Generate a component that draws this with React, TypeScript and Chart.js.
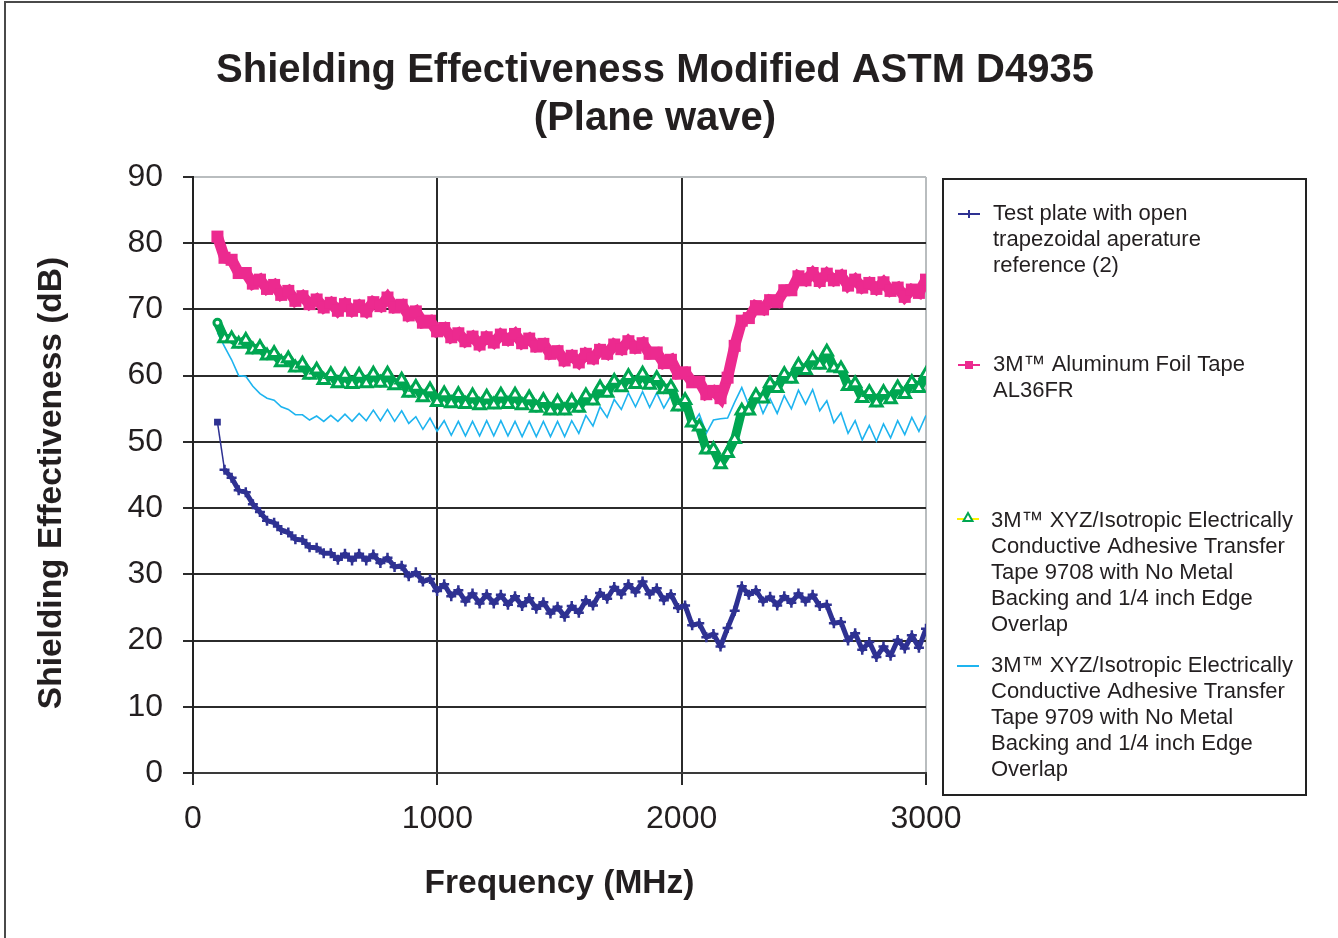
import React, { useEffect, useRef } from 'react';
import { Chart, registerables } from 'chart.js';

Chart.register(...registerables);

// ---------- data ----------
const FREQ_MHZ = [
  100, 129, 158, 187, 216, 245, 274, 303, 332, 361, 390, 419, 448, 477, 506, 535, 564, 593, 622, 651,
  680, 709, 738, 767, 796, 825, 854, 883, 912, 941, 970, 999, 1028, 1057, 1086, 1115, 1144, 1173, 1202, 1231,
  1260, 1289, 1318, 1347, 1376, 1405, 1434, 1463, 1492, 1521, 1550, 1579, 1608, 1637, 1666, 1695, 1724, 1753, 1782, 1811,
  1840, 1869, 1898, 1927, 1956, 1985, 2014, 2043, 2072, 2101, 2130, 2159, 2188, 2217, 2246, 2275, 2304, 2333, 2362, 2391,
  2420, 2449, 2478, 2507, 2536, 2565, 2594, 2623, 2652, 2681, 2710, 2739, 2768, 2797, 2826, 2855, 2884, 2913, 2942, 2971,
  3000,
];

const TEST_PLATE = [
  53.0, 45.8, 44.6, 42.7, 42.4, 40.6, 39.4, 38.1, 37.8, 36.7, 36.3, 35.3, 35.2, 34.1, 34.0, 33.2, 33.2, 32.2, 33.1, 32.1,
  33.1, 32.1, 33.0, 31.7, 32.5, 31.1, 31.3, 29.7, 30.3, 28.9, 29.3, 27.5, 28.5, 26.7, 27.6, 25.9, 27.1, 25.6, 27.0, 25.6,
  26.9, 25.4, 26.7, 25.2, 26.4, 24.8, 25.8, 24.1, 25.1, 23.6, 25.2, 24.2, 26.1, 25.3, 27.2, 26.3, 28.1, 27.0, 28.5, 27.3,
  28.9, 27.0, 27.9, 26.1, 27.0, 24.9, 25.3, 22.3, 22.6, 20.5, 21.0, 19.1, 21.9, 24.5, 28.2, 26.9, 27.6, 25.9, 26.6, 25.3,
  26.7, 25.7, 27.1, 25.9, 26.9, 25.2, 25.4, 22.6, 22.8, 20.0, 21.1, 18.6, 19.8, 17.5, 19.1, 17.7, 20.1, 18.8, 20.8, 18.9,
  21.8,
];

const AL_FOIL_AL36FR = [
  81.0, 77.8, 77.5, 75.5, 75.5, 73.9, 74.5, 73.1, 73.7, 72.2, 72.8, 71.3, 72.0, 70.8, 71.5, 70.3, 71.0, 69.8, 70.8, 69.8,
  70.6, 69.7, 71.1, 70.5, 71.8, 70.3, 70.7, 69.1, 69.7, 68.0, 68.3, 66.7, 67.2, 65.8, 66.4, 65.2, 65.9, 64.7, 65.8, 65.0,
  66.2, 65.4, 66.3, 64.9, 65.6, 64.4, 64.8, 63.3, 63.7, 62.3, 63.0, 62.0, 63.3, 62.6, 63.9, 63.3, 64.7, 64.0, 65.2, 64.2,
  64.9, 63.3, 63.5, 61.9, 62.4, 60.3, 60.5, 59.0, 59.1, 57.2, 57.7, 56.6, 59.7, 64.5, 68.3, 68.7, 70.5, 70.0, 71.4, 71.1,
  72.9, 72.9, 75.0, 74.4, 75.5, 74.3, 75.4, 74.4, 75.1, 73.6, 74.5, 73.3, 74.0, 73.1, 74.1, 72.8, 73.3, 71.9, 73.0, 72.5,
  74.5,
];

const TAPE_9708 = [
  68.0, 65.6, 65.6, 64.8, 65.4, 63.9, 64.3, 63.0, 63.4, 62.0, 62.6, 61.2, 61.8, 60.1, 60.9, 59.3, 60.2, 58.8, 60.1, 58.7,
  60.1, 58.8, 60.3, 58.9, 60.3, 58.5, 59.4, 57.4, 58.3, 56.7, 57.9, 56.0, 57.3, 55.8, 57.2, 55.7, 57.0, 55.5, 56.8, 55.6,
  57.1, 55.7, 57.1, 55.5, 56.7, 55.1, 56.3, 54.7, 56.1, 54.7, 56.2, 55.1, 57.0, 56.2, 58.2, 57.4, 59.2, 58.2, 59.9, 58.7,
  60.3, 58.6, 59.6, 57.9, 58.3, 55.3, 56.3, 52.9, 52.3, 48.8, 48.9, 46.6, 48.3, 50.4, 54.7, 54.7, 57.0, 56.5, 58.8, 58.1,
  60.2, 59.5, 61.6, 60.8, 62.6, 61.6, 63.6, 61.2, 61.1, 58.4, 58.8, 56.6, 57.5, 55.9, 57.5, 56.4, 58.2, 57.2, 59.0, 58.1,
  60.2,
];

const TAPE_9709 = [
  66.5, 64.4, 62.4, 60.0, 59.9, 58.4, 57.3, 56.6, 56.3, 55.3, 54.9, 54.1, 54.1, 53.3, 53.9, 53.1, 54.0, 53.1, 54.2, 53.1,
  54.3, 53.2, 54.8, 53.2, 54.9, 53.1, 54.7, 52.8, 53.8, 51.9, 53.6, 51.6, 53.2, 51.0, 53.1, 50.9, 53.1, 50.9, 53.2, 50.9,
  53.2, 50.9, 53.1, 50.8, 53.1, 50.8, 53.1, 50.8, 53.1, 50.8, 53.2, 51.3, 54.0, 52.4, 55.3, 53.7, 56.4, 54.9, 57.4, 55.3,
  57.6, 55.2, 57.4, 55.1, 57.0, 54.8, 56.5, 52.6, 54.2, 51.3, 53.3, 53.5, 53.6, 56.0, 58.2, 55.5, 57.2, 54.3, 56.5, 54.3,
  57.0, 55.0, 57.8, 55.7, 57.9, 54.7, 56.2, 52.9, 54.4, 51.3, 53.2, 50.3, 52.5, 50.1, 52.7, 50.6, 53.2, 51.1, 53.7, 51.6,
  54.0,
];

const X_MIN = 0;
const X_MAX = 3000;
const X_STEP = 1000;
const Y_MIN = 0;
const Y_MAX = 90;
const Y_STEP = 10;

const TITLE_LINES = ['Shielding Effectiveness Modified ASTM D4935', '(Plane wave)'];
const X_TITLE = 'Frequency (MHz)';
const Y_TITLE = 'Shielding Effectiveness (dB)';

const LABEL_TEST_PLATE = ['Test plate with open', 'trapezoidal aperature', 'reference (2)'];
const LABEL_AL_FOIL = ['3M™ Aluminum Foil Tape', 'AL36FR'];
const LABEL_9708 = [
  '3M™ XYZ/Isotropic Electrically',
  'Conductive Adhesive Transfer',
  'Tape 9708 with No Metal',
  'Backing and 1/4 inch Edge',
  'Overlap',
];
const LABEL_9709 = [
  '3M™ XYZ/Isotropic Electrically',
  'Conductive Adhesive Transfer',
  'Tape 9709 with No Metal',
  'Backing and 1/4 inch Edge',
  'Overlap',
];

// ---------- styles ----------
const FONT = '"Liberation Sans", Arial, Helvetica, sans-serif';
const TEXT = '#231f20';
const NAVY = '#2e3192';
const PINK = '#ec2a8f';
const GREEN = '#00a651';
const CYAN = '#1eb4ef';
const YELLOW = '#fff200';
const GRID = '#2b2b2b';
const FRAME = '#b9bdbf';

const W = 1338;
const H = 938;

const pts = (ys: number[]) => FREQ_MHZ.map((f, i) => ({ x: f, y: ys[i] }));

const decorPlugin = {
  id: 'decor',
  beforeDraw(chart: any) {
    const ctx = chart.ctx;
    ctx.save();
    ctx.fillStyle = '#ffffff';
    ctx.fillRect(0, 0, chart.width, chart.height);
    ctx.strokeStyle = '#4a4a4a';
    ctx.lineWidth = 2;
    ctx.beginPath();
    ctx.moveTo(5, H);
    ctx.lineTo(5, 2);
    ctx.lineTo(W, 2);
    ctx.stroke();
    ctx.restore();
  },
  afterDraw(chart: any) {
    const ctx = chart.ctx;
    ctx.save();
    ctx.fillStyle = TEXT;
    ctx.textAlign = 'center';
    ctx.textBaseline = 'middle';
    ctx.font = `bold 40px ${FONT}`;
    ctx.fillText(TITLE_LINES[0], 655, 71);
    ctx.fillText(TITLE_LINES[1], 655, 119);

    ctx.save();
    ctx.translate(52, 483);
    ctx.rotate(-Math.PI / 2);
    ctx.font = `bold 33.5px ${FONT}`;
    ctx.fillText(Y_TITLE, 0, 0);
    ctx.restore();

    const lx = 943;
    const ly = 179;
    ctx.strokeStyle = '#222';
    ctx.lineWidth = 2;
    ctx.strokeRect(lx, ly, 363, 616);

    ctx.font = `22px ${FONT}`;
    ctx.textAlign = 'left';
    const lineGap = 25.9;
    const drawLines = (lines: string[], x: number, y0: number) => {
      lines.forEach((t, i) => ctx.fillText(t, x, y0 + i * lineGap));
    };

    ctx.strokeStyle = NAVY;
    ctx.lineWidth = 2;
    ctx.beginPath();
    ctx.moveTo(958, 214);
    ctx.lineTo(980, 214);
    ctx.moveTo(969, 210);
    ctx.lineTo(969, 218);
    ctx.stroke();
    drawLines(LABEL_TEST_PLATE, 993, 214);

    ctx.strokeStyle = PINK;
    ctx.fillStyle = PINK;
    ctx.beginPath();
    ctx.moveTo(958, 365);
    ctx.lineTo(980, 365);
    ctx.stroke();
    ctx.fillRect(965, 361, 8, 8);
    ctx.fillStyle = TEXT;
    drawLines(LABEL_AL_FOIL, 993, 365);

    ctx.strokeStyle = YELLOW;
    ctx.beginPath();
    ctx.moveTo(957, 519);
    ctx.lineTo(979, 519);
    ctx.stroke();
    ctx.strokeStyle = GREEN;
    ctx.fillStyle = '#ffffff';
    ctx.lineWidth = 2;
    ctx.beginPath();
    ctx.moveTo(968, 513);
    ctx.lineTo(972.5, 521);
    ctx.lineTo(963.5, 521);
    ctx.closePath();
    ctx.fill();
    ctx.stroke();
    ctx.fillStyle = TEXT;
    drawLines(LABEL_9708, 991, 521);

    ctx.strokeStyle = CYAN;
    ctx.lineWidth = 2;
    ctx.beginPath();
    ctx.moveTo(957, 666);
    ctx.lineTo(979, 666);
    ctx.stroke();
    drawLines(LABEL_9709, 991, 666);

    ctx.restore();
  },
};

export default function App() {
  const canvasRef = useRef<HTMLCanvasElement | null>(null);

  useEffect(() => {
    document.body.style.margin = '0';
    const canvas = canvasRef.current;
    if (!canvas) return;

    const chart = new Chart(canvas, {
      type: 'line',
      data: {
        datasets: [
          {
            label: LABEL_TEST_PLATE.join(' '),
            data: pts(TEST_PLATE),
            borderColor: NAVY,
            backgroundColor: NAVY,
            borderWidth: 4.5,
            borderJoinStyle: 'round',
            segment: { borderWidth: (c: any) => (c.p0DataIndex === 0 ? 1.5 : 5) },
            pointStyle: (c: any) => (c.dataIndex === 0 ? 'rect' : 'cross'),
            pointRadius: (c: any) => (c.dataIndex === 0 ? 3 : 5),
            pointBorderWidth: 2.5,
            pointBorderColor: NAVY,
            pointBackgroundColor: NAVY,
            tension: 0,
          },
          {
            label: LABEL_AL_FOIL.join(' '),
            data: pts(AL_FOIL_AL36FR),
            borderColor: PINK,
            backgroundColor: PINK,
            borderWidth: 11,
            borderJoinStyle: 'miter',
            pointStyle: 'rect',
            pointRadius: 8.5,
            pointBorderWidth: 0,
            pointBackgroundColor: PINK,
            tension: 0,
          },
          {
            label: LABEL_9708.join(' '),
            data: pts(TAPE_9708),
            borderColor: GREEN,
            backgroundColor: '#ffffff',
            borderWidth: 9,
            borderJoinStyle: 'round',
            pointStyle: (c: any) => (c.dataIndex === 0 ? 'circle' : 'triangle'),
            pointRadius: (c: any) => (c.dataIndex === 0 ? 3.5 : 6.5),
            pointBorderWidth: 3,
            pointBorderColor: GREEN,
            pointBackgroundColor: '#ffffff',
            tension: 0,
          },
          {
            label: LABEL_9709.join(' '),
            data: pts(TAPE_9709),
            borderColor: CYAN,
            backgroundColor: CYAN,
            borderWidth: 1.6,
            pointRadius: 0,
            tension: 0,
          },
        ],
      },
      options: {
        responsive: false,
        animation: false,
        events: [],
        layout: { padding: { left: 0, top: 177, right: 412, bottom: 0 } },
        plugins: {
          legend: { display: false },
          tooltip: { enabled: false },
          title: { display: false },
        },
        scales: {
          x: {
            type: 'linear',
            min: X_MIN,
            max: X_MAX,
            afterFit: (s: any) => {
              s.height = H - 773;
            },
            ticks: {
              stepSize: X_STEP,
              color: TEXT,
              font: { family: FONT, size: 32 },
              padding: 15,
              maxRotation: 0,
              callback: (v: any) => String(v),
            },
            grid: {
              color: (c: any) => (c.tick && c.tick.value === X_MAX ? FRAME : GRID),
              tickColor: GRID,
              lineWidth: 2,
              tickLength: 12,
            },
            border: { display: true, color: '#3a3a3a', width: 2 },
            title: {
              display: true,
              text: X_TITLE,
              color: TEXT,
              font: { family: FONT, size: 33.5, weight: 'bold' },
              padding: { top: 0, bottom: 34 },
            },
          },
          y: {
            type: 'linear',
            min: Y_MIN,
            max: Y_MAX,
            afterFit: (s: any) => {
              s.width = 193;
            },
            ticks: {
              stepSize: Y_STEP,
              color: TEXT,
              font: { family: FONT, size: 32 },
              padding: 20,
              callback: (v: any) => String(v),
            },
            grid: {
              color: (c: any) => (c.tick && c.tick.value === Y_MAX ? FRAME : GRID),
              tickColor: GRID,
              lineWidth: 2,
              tickLength: 10,
            },
            border: { display: true, color: '#222', width: 2 },
          },
        },
      },
      plugins: [decorPlugin],
    });

    return () => chart.destroy();
  }, []);

  return (
    <div style={{ width: W, height: H, position: 'relative', overflow: 'hidden' }}>
      <canvas ref={canvasRef} width={W} height={H} style={{ display: 'block' }} />
    </div>
  );
}
